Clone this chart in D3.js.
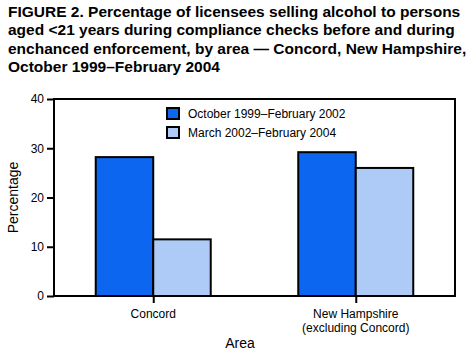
<!DOCTYPE html>
<html><head><meta charset="utf-8">
<script src="https://cdn.jsdelivr.net/npm/d3@7"></script>
<style>body{margin:0;background:#fff}svg{display:block}</style>
</head><body>
<script>
const categories = ["Concord", "New Hampshire|(excluding Concord)"];
const seriesNames = ["October 1999\u2013February 2002", "March 2002\u2013February 2004"];
const before = [28.2, 29.2];
const during = [11.5, 26.0];
const yTicks = [0, 10, 20, 30, 40];
const colors = ["#0C66F0", "#AECBF7"];
const titleLines = [
  "FIGURE 2. Percentage of licensees selling alcohol to persons",
  "aged <21 years during compliance checks before and during",
  "enchanced enforcement, by area \u2014 Concord, New Hampshire,",
  "October 1999\u2013February 2004"
];

const W = 467, H = 361;
const svg = d3.select("body").append("svg").attr("width", W).attr("height", H);
const font = "Liberation Sans, Arial, Helvetica, sans-serif";
const L = 54, R = 455, T = 99, B = 296;

svg.append("g").selectAll("text").data(titleLines).join("text")
  .attr("x", 8).attr("y", (d, i) => 17 + i * 18.3)
  .attr("font-family", font).attr("font-weight", "bold").attr("font-size", 15.5)
  .text(d => d);

const x = d3.scalePoint().domain(categories).range([L, R]).padding(0.49);
const y = d3.scaleLinear().domain([0, 40]).range([B, T]);
const bw = 57.5;

const series = [before, during];
series.forEach((vals, s) => {
  svg.append("g").selectAll("rect").data(categories).join("rect")
    .attr("x", d => x(d) + (s === 0 ? -bw : 0))
    .attr("y", (d, i) => y(vals[i]))
    .attr("width", bw)
    .attr("height", (d, i) => y(0) - y(vals[i]))
    .attr("fill", colors[s]).attr("stroke", "#000").attr("stroke-width", 2);
});

// frame
svg.append("rect").attr("x", L).attr("y", T).attr("width", R - L).attr("height", B - T)
  .attr("fill", "none").attr("stroke", "#000").attr("stroke-width", 2);

// y axis
const yAxis = svg.append("g").attr("transform", `translate(${L},0)`)
  .call(d3.axisLeft(y).tickValues(yTicks).tickSize(7).tickPadding(3));
yAxis.select(".domain").remove();
yAxis.selectAll("line").attr("stroke", "#000").attr("stroke-width", 2);
yAxis.selectAll("text").attr("font-family", font).attr("font-size", 12).attr("fill", "#000");

// x axis
const xAxis = svg.append("g").attr("transform", `translate(0,${B})`)
  .call(d3.axisBottom(x).tickSize(7).tickFormat(""));
xAxis.select(".domain").remove();
xAxis.selectAll("line").attr("stroke", "#000").attr("stroke-width", 2);
svg.append("g").selectAll("text").data(categories).join("text")
  .attr("x", d => x(d)).attr("y", 318)
  .attr("text-anchor", "middle").attr("font-family", font).attr("font-size", 12)
  .each(function(d) {
    d.split("|").forEach((ln, i) => {
      d3.select(this).append("tspan").attr("x", x(d)).attr("dy", i ? 14 : 0).text(ln);
    });
  });

svg.append("text").attr("x", 240).attr("y", 348).attr("text-anchor", "middle")
  .attr("font-family", font).attr("font-size", 14).text("Area");
svg.append("text").attr("transform", `translate(18,${(T + B) / 2}) rotate(-90)`)
  .attr("text-anchor", "middle").attr("font-family", font).attr("font-size", 14).text("Percentage");

// legend
const lg = svg.append("g");
seriesNames.forEach((n, i) => {
  lg.append("rect").attr("x", 167).attr("y", 108 + i * 19).attr("width", 12).attr("height", 11)
    .attr("fill", colors[i]).attr("stroke", "#000").attr("stroke-width", 2);
  lg.append("text").attr("x", 188).attr("y", 118 + i * 19)
    .attr("font-family", font).attr("font-size", 12).text(n);
});
</script>
</body></html>
